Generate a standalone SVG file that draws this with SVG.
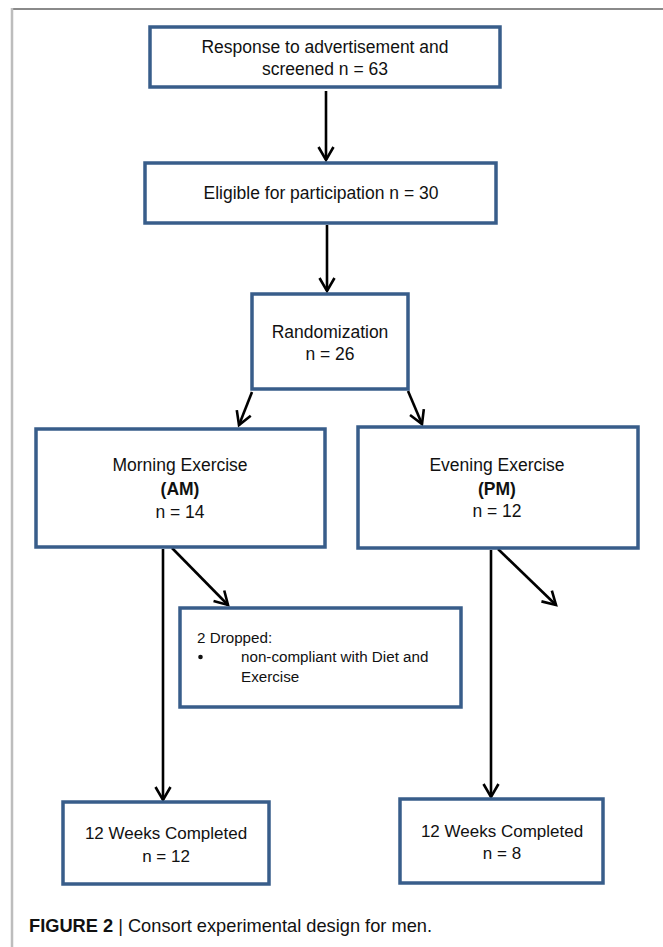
<svg xmlns="http://www.w3.org/2000/svg" width="663" height="947" viewBox="0 0 663 947">
<style>
.box{fill:#fff;stroke:#385D8A;stroke-width:3.5}
.t{font-family:"Liberation Sans",Arial,sans-serif;font-size:17.5px;fill:#111;text-anchor:middle}
.b{font-size:17px}
.s{font-family:"Liberation Sans",Arial,sans-serif;font-size:15.2px;fill:#111}
.c{stroke:#000;stroke-width:2.6;fill:none}
</style>
<defs>
<marker id="ah" markerUnits="userSpaceOnUse" markerWidth="30" markerHeight="30" refX="0" refY="0" viewBox="-15 -15 30 30" orient="auto">
<path d="M-13,-7.5 L0,0 L-13,7.5" fill="none" stroke="#000" stroke-width="2.6"/>
</marker>
</defs>
<rect width="663" height="947" fill="#fff"/>
<g id="frame">
<line x1="12" y1="9" x2="663" y2="9" stroke="#8a8a8a" stroke-width="2"/>
<line x1="12" y1="8" x2="12" y2="947" stroke="#bdbdbd" stroke-width="2.5"/>
</g>
<g id="connectors">
<line class="c" x1="326" y1="91" x2="326" y2="160" marker-end="url(#ah)"/>
<line class="c" x1="327" y1="225" x2="327" y2="291" marker-end="url(#ah)"/>
<line class="c" x1="252" y1="392" x2="239" y2="425" marker-end="url(#ah)"/>
<line class="c" x1="408" y1="391" x2="422" y2="424" marker-end="url(#ah)"/>
<line class="c" x1="163" y1="549" x2="163" y2="800" marker-end="url(#ah)"/>
<line class="c" x1="172" y1="548" x2="228" y2="605" marker-end="url(#ah)"/>
<line class="c" x1="491" y1="550" x2="491" y2="797" marker-end="url(#ah)"/>
<line class="c" x1="498" y1="549" x2="556" y2="605" marker-end="url(#ah)"/>
</g>
<g id="n1">
<rect class="box" x="150" y="27" width="350" height="60"/>
<text class="t" x="325" y="52.5">Response to advertisement and</text>
<text class="t" x="325" y="75">screened n = 63</text>
</g>
<g id="n2">
<rect class="box" x="145" y="163" width="351" height="60"/>
<text class="t" x="321" y="199">Eligible for participation n = 30</text>
</g>
<g id="n3">
<rect class="box" x="252" y="294" width="156" height="95"/>
<text class="t" x="330" y="338">Randomization</text>
<text class="t" x="330" y="360">n = 26</text>
</g>
<g id="n4">
<rect class="box" x="36" y="429" width="289" height="118"/>
<text class="t" x="180" y="471">Morning Exercise</text>
<text class="t" x="180" y="495" font-weight="bold">(AM)</text>
<text class="t" x="180" y="518">n = 14</text>
</g>
<g id="n5">
<rect class="box" x="358" y="427" width="280" height="121"/>
<text class="t" x="497" y="471">Evening Exercise</text>
<text class="t" x="497" y="495" font-weight="bold">(PM)</text>
<text class="t" x="497" y="517">n = 12</text>
</g>
<g id="n6">
<rect class="box" x="180" y="608" width="281" height="99"/>
<text class="s" x="197" y="643">2 Dropped:</text>
<circle cx="200.5" cy="657" r="2.3" fill="#111"/>
<text class="s" x="241" y="662">non-compliant with Diet and</text>
<text class="s" x="241" y="682">Exercise</text>
</g>
<g id="n7">
<rect class="box" x="63" y="802" width="206" height="82"/>
<text class="t b" x="166" y="839">12 Weeks Completed</text>
<text class="t b" x="166" y="862">n = 12</text>
</g>
<g id="n8">
<rect class="box" x="400" y="799" width="203" height="84"/>
<text class="t b" x="502" y="837">12 Weeks Completed</text>
<text class="t b" x="502" y="859">n = 8</text>
</g>
<g id="caption">
<text x="29" y="932" font-family="'Liberation Sans',Arial,sans-serif" font-size="19" fill="#111" textLength="403" lengthAdjust="spacingAndGlyphs"><tspan font-weight="bold">FIGURE 2</tspan> | Consort experimental design for men.</text>
</g>
</svg>
